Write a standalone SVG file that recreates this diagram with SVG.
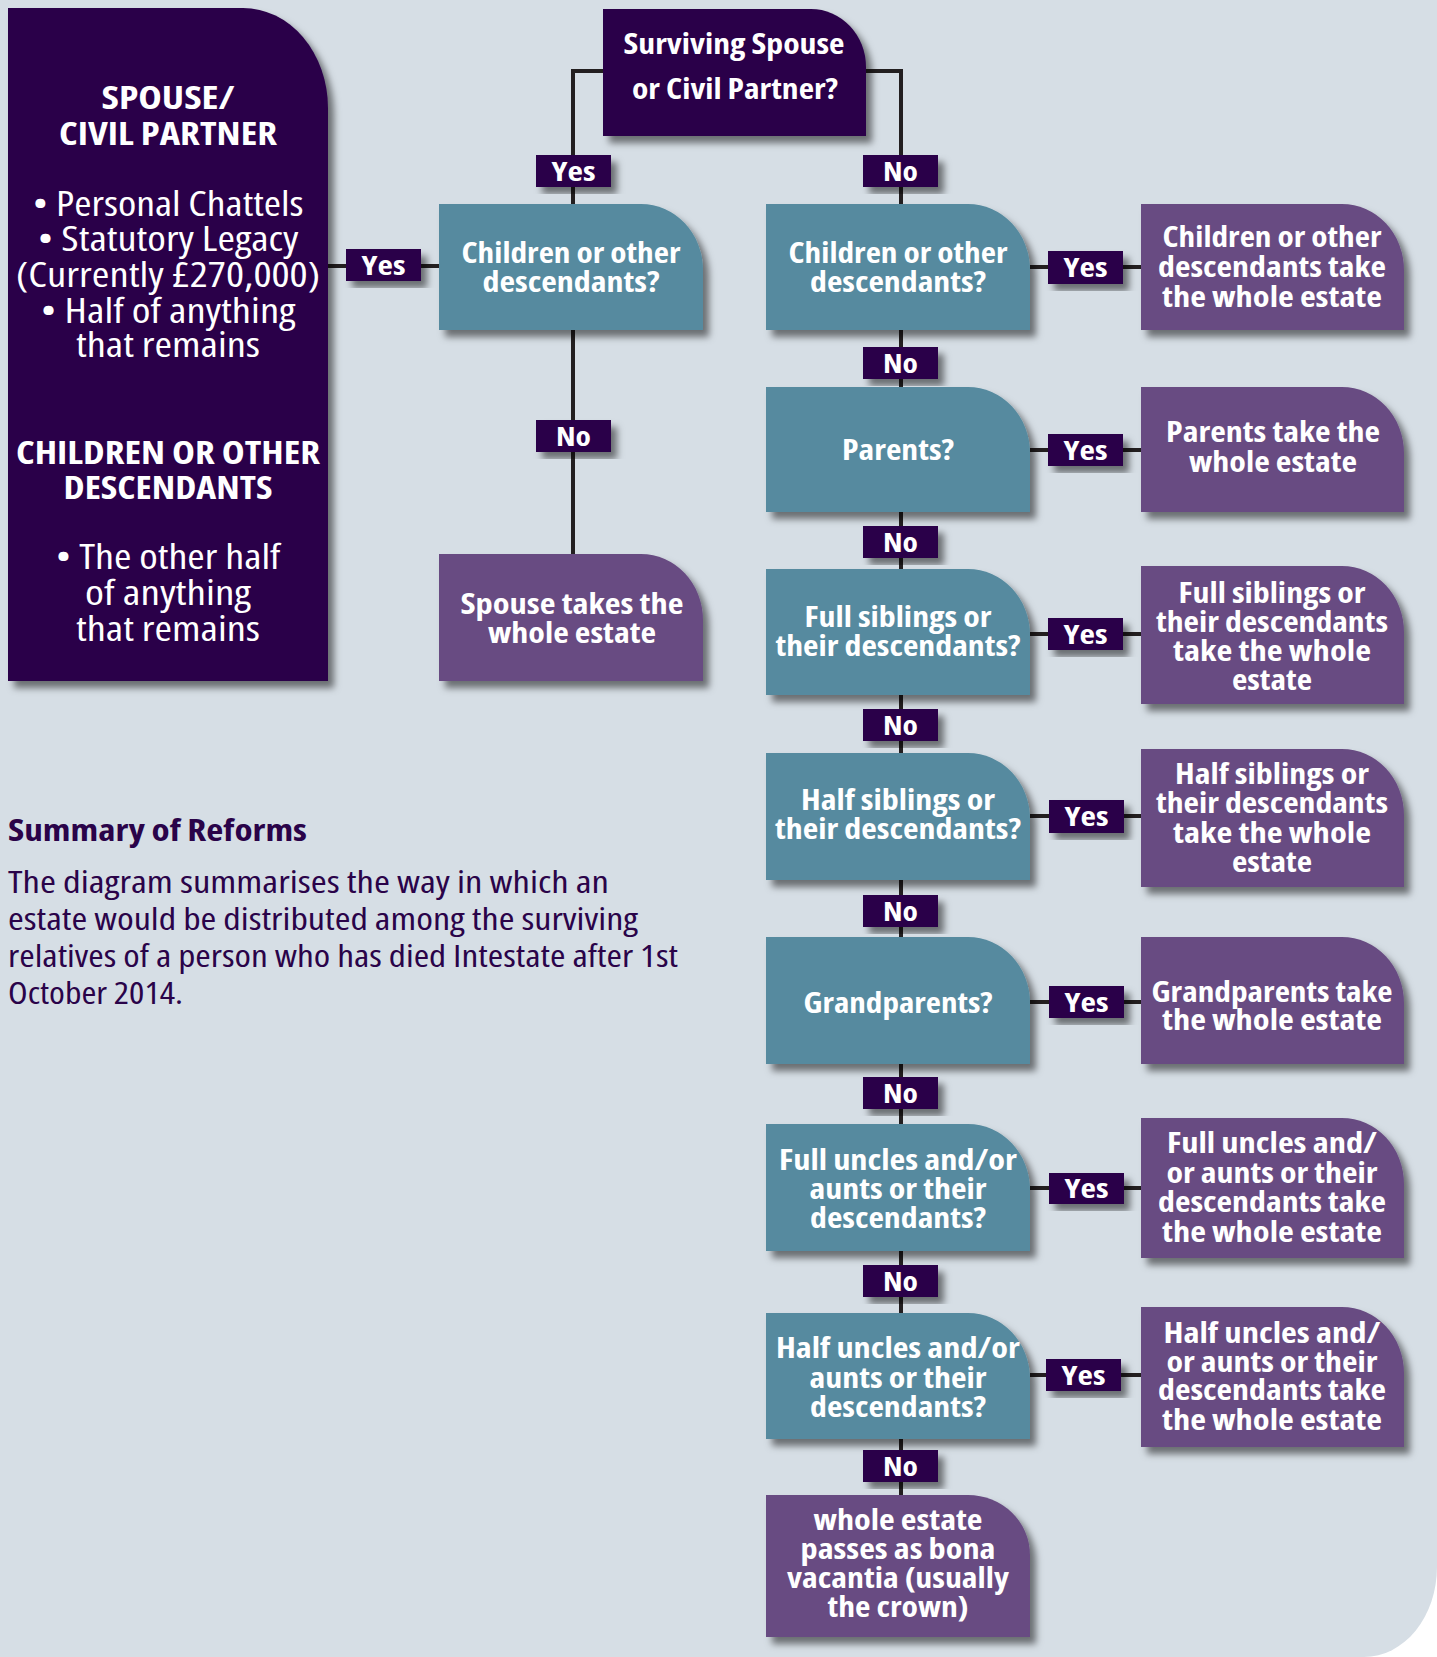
<svg xmlns="http://www.w3.org/2000/svg" width="1437" height="1657" viewBox="0 0 1437 1657">
<defs>
<filter id="sh" x="-10%" y="-10%" width="130%" height="130%">
<feDropShadow dx="6" dy="7" stdDeviation="3.5" flood-color="#000" flood-opacity="0.5"/>
</filter>
<style>
.bg{fill:#d6dee5}
.dk{fill:#2a0349}
.tl{fill:#568a9f}
.pu{fill:#684c82}
.ln{stroke:#231f20;stroke-width:4;fill:none}
.sh{filter:url(#sh)}
text{font-family:"Open Sans","Liberation Sans",sans-serif;font-stretch:condensed;text-anchor:middle;fill:#ffffff}
tspan{text-anchor:middle}
.b{font-weight:700;font-size:28px}
.lb{font-weight:700;font-size:27px}
.h{font-weight:700;font-size:32px}
.r{font-weight:400;font-size:34px}
.st{font-weight:700;font-size:31px;fill:#2a0349;text-anchor:start}
.sb{font-weight:400;font-size:31px;fill:#2a0349;text-anchor:start}
.sb tspan{text-anchor:start}
</style>
</defs>
<rect width="1437" height="1657" fill="#ffffff"/>
<path class="bg" d="M0 0 H1437 V1567 A73 90 0 0 1 1364 1657 H0 Z"/>

<g id="connectors">
<path class="ln" d="M603 71 H573 V554"/>
<path class="ln" d="M866 71 H901 V1495"/>
<path class="ln" d="M328 266 H439"/>
<path class="ln" d="M1030 267 H1141"/>
<path class="ln" d="M1030 450 H1141"/>
<path class="ln" d="M1030 634 H1141"/>
<path class="ln" d="M1030 816 H1141"/>
<path class="ln" d="M1030 1002 H1141"/>
<path class="ln" d="M1030 1188 H1141"/>
<path class="ln" d="M1030 1375 H1141"/>
</g>

<g id="spouse-info">
<path class="dk sh" d="M8 8 H243 A85 100 0 0 1 328 108 V681 H8 Z"/>
<text class="h"><tspan x="168" y="109" textLength="133" lengthAdjust="spacingAndGlyphs">SPOUSE/</tspan><tspan x="168" y="145" textLength="218" lengthAdjust="spacingAndGlyphs">CIVIL PARTNER</tspan></text>
<text class="r"><tspan x="168" y="216" textLength="271" lengthAdjust="spacingAndGlyphs">• Personal Chattels</tspan><tspan x="168" y="251" textLength="261" lengthAdjust="spacingAndGlyphs">• Statutory Legacy</tspan><tspan x="168" y="287" textLength="304" lengthAdjust="spacingAndGlyphs">(Currently £270,000)</tspan><tspan x="168" y="323" textLength="255" lengthAdjust="spacingAndGlyphs">• Half of anything</tspan><tspan x="168" y="357" textLength="184" lengthAdjust="spacingAndGlyphs">that remains</tspan></text>
<text class="h"><tspan x="168" y="464" textLength="304" lengthAdjust="spacingAndGlyphs">CHILDREN OR OTHER</tspan><tspan x="168" y="499" textLength="209" lengthAdjust="spacingAndGlyphs">DESCENDANTS</tspan></text>
<text class="r"><tspan x="168" y="569" textLength="225" lengthAdjust="spacingAndGlyphs">• The other half</tspan><tspan x="168" y="605" textLength="166" lengthAdjust="spacingAndGlyphs">of anything</tspan><tspan x="168" y="641" textLength="184" lengthAdjust="spacingAndGlyphs">that remains</tspan></text>
</g>

<g id="q-spouse">
<path class="dk sh" d="M603 9 H811 A55 58 0 0 1 866 67 V136 H603 Z"/>
<text class="b"><tspan x="734" y="54" textLength="221" lengthAdjust="spacingAndGlyphs">Surviving Spouse</tspan><tspan x="735" y="99" textLength="206" lengthAdjust="spacingAndGlyphs">or Civil Partner?</tspan></text>
</g>

<g id="q-children-left">
<path class="tl sh" d="M439 204 H641 A62 66 0 0 1 703 270 V330 H439 Z"/>
<text class="b"><tspan x="571" y="263" textLength="219" lengthAdjust="spacingAndGlyphs">Children or other</tspan><tspan x="571" y="292" textLength="177" lengthAdjust="spacingAndGlyphs">descendants?</tspan></text>
</g>

<g id="r-spouse">
<path class="pu sh" d="M439 554 H641 A62 66 0 0 1 703 620 V681 H439 Z"/>
<text class="b"><tspan x="572" y="614" textLength="223" lengthAdjust="spacingAndGlyphs">Spouse takes the</tspan><tspan x="572" y="643" textLength="168" lengthAdjust="spacingAndGlyphs">whole estate</tspan></text>
</g>

<g id="q-children">
<path class="tl sh" d="M766 204 H968 A62 66 0 0 1 1030 270 V330 H766 Z"/>
<text class="b"><tspan x="898" y="263" textLength="219" lengthAdjust="spacingAndGlyphs">Children or other</tspan><tspan x="898" y="292" textLength="176" lengthAdjust="spacingAndGlyphs">descendants?</tspan></text>
</g>
<g id="q-parents">
<path class="tl sh" d="M766 387 H968 A62 66 0 0 1 1030 453 V512 H766 Z"/>
<text class="b" x="898" y="460" textLength="112" lengthAdjust="spacingAndGlyphs">Parents?</text>
</g>
<g id="q-full-siblings">
<path class="tl sh" d="M766 569 H968 A62 66 0 0 1 1030 635 V695 H766 Z"/>
<text class="b"><tspan x="898" y="627" textLength="187" lengthAdjust="spacingAndGlyphs">Full siblings or</tspan><tspan x="898" y="656" textLength="245" lengthAdjust="spacingAndGlyphs">their descendants?</tspan></text>
</g>
<g id="q-half-siblings">
<path class="tl sh" d="M766 753 H968 A62 66 0 0 1 1030 819 V880 H766 Z"/>
<text class="b"><tspan x="898" y="810" textLength="194" lengthAdjust="spacingAndGlyphs">Half siblings or</tspan><tspan x="898" y="839" textLength="246" lengthAdjust="spacingAndGlyphs">their descendants?</tspan></text>
</g>
<g id="q-grandparents">
<path class="tl sh" d="M766 937 H968 A62 66 0 0 1 1030 1003 V1064 H766 Z"/>
<text class="b" x="898" y="1013" textLength="189" lengthAdjust="spacingAndGlyphs">Grandparents?</text>
</g>
<g id="q-full-uncles">
<path class="tl sh" d="M766 1124 H968 A62 66 0 0 1 1030 1190 V1251 H766 Z"/>
<text class="b"><tspan x="898" y="1170" textLength="238" lengthAdjust="spacingAndGlyphs">Full uncles and/or</tspan><tspan x="898" y="1199" textLength="177" lengthAdjust="spacingAndGlyphs">aunts or their</tspan><tspan x="898" y="1228" textLength="176" lengthAdjust="spacingAndGlyphs">descendants?</tspan></text>
</g>
<g id="q-half-uncles">
<path class="tl sh" d="M766 1313 H968 A62 66 0 0 1 1030 1379 V1439 H766 Z"/>
<text class="b"><tspan x="898" y="1358" textLength="244" lengthAdjust="spacingAndGlyphs">Half uncles and/or</tspan><tspan x="898" y="1388" textLength="177" lengthAdjust="spacingAndGlyphs">aunts or their</tspan><tspan x="898" y="1417" textLength="176" lengthAdjust="spacingAndGlyphs">descendants?</tspan></text>
</g>
<g id="r-bona-vacantia">
<path class="pu sh" d="M766 1495 H968 A62 60 0 0 1 1030 1555 V1637 H766 Z"/>
<text class="b"><tspan x="898" y="1530" textLength="169" lengthAdjust="spacingAndGlyphs">whole estate</tspan><tspan x="898" y="1559" textLength="195" lengthAdjust="spacingAndGlyphs">passes as bona</tspan><tspan x="898" y="1588" textLength="222" lengthAdjust="spacingAndGlyphs">vacantia (usually</tspan><tspan x="898" y="1617" textLength="141" lengthAdjust="spacingAndGlyphs">the crown)</tspan></text>
</g>

<g id="r-children">
<path class="pu sh" d="M1141 204 H1342 A62 66 0 0 1 1404 270 V330 H1141 Z"/>
<text class="b"><tspan x="1272" y="247" textLength="219" lengthAdjust="spacingAndGlyphs">Children or other</tspan><tspan x="1272" y="277" textLength="228" lengthAdjust="spacingAndGlyphs">descendants take</tspan><tspan x="1272" y="307" textLength="220" lengthAdjust="spacingAndGlyphs">the whole estate</tspan></text>
</g>
<g id="r-parents">
<path class="pu sh" d="M1141 387 H1342 A62 66 0 0 1 1404 453 V512 H1141 Z"/>
<text class="b"><tspan x="1273" y="442" textLength="214" lengthAdjust="spacingAndGlyphs">Parents take the</tspan><tspan x="1273" y="472" textLength="168" lengthAdjust="spacingAndGlyphs">whole estate</tspan></text>
</g>
<g id="r-full-siblings">
<path class="pu sh" d="M1141 566 H1342 A62 66 0 0 1 1404 632 V704 H1141 Z"/>
<text class="b"><tspan x="1272" y="603" textLength="187" lengthAdjust="spacingAndGlyphs">Full siblings or</tspan><tspan x="1272" y="632" textLength="232" lengthAdjust="spacingAndGlyphs">their descendants</tspan><tspan x="1272" y="661" textLength="198" lengthAdjust="spacingAndGlyphs">take the whole</tspan><tspan x="1272" y="690" textLength="80" lengthAdjust="spacingAndGlyphs">estate</tspan></text>
</g>
<g id="r-half-siblings">
<path class="pu sh" d="M1141 749 H1342 A62 66 0 0 1 1404 815 V887 H1141 Z"/>
<text class="b"><tspan x="1272" y="784" textLength="194" lengthAdjust="spacingAndGlyphs">Half siblings or</tspan><tspan x="1272" y="813" textLength="232" lengthAdjust="spacingAndGlyphs">their descendants</tspan><tspan x="1272" y="843" textLength="198" lengthAdjust="spacingAndGlyphs">take the whole</tspan><tspan x="1272" y="872" textLength="80" lengthAdjust="spacingAndGlyphs">estate</tspan></text>
</g>
<g id="r-grandparents">
<path class="pu sh" d="M1141 937 H1342 A62 66 0 0 1 1404 1003 V1064 H1141 Z"/>
<text class="b"><tspan x="1272" y="1002" textLength="241" lengthAdjust="spacingAndGlyphs">Grandparents take</tspan><tspan x="1272" y="1030" textLength="220" lengthAdjust="spacingAndGlyphs">the whole estate</tspan></text>
</g>
<g id="r-full-uncles">
<path class="pu sh" d="M1141 1118 H1342 A62 66 0 0 1 1404 1184 V1258 H1141 Z"/>
<text class="b"><tspan x="1272" y="1153" textLength="210" lengthAdjust="spacingAndGlyphs">Full uncles and/</tspan><tspan x="1272" y="1183" textLength="211" lengthAdjust="spacingAndGlyphs">or aunts or their</tspan><tspan x="1272" y="1212" textLength="228" lengthAdjust="spacingAndGlyphs">descendants take</tspan><tspan x="1272" y="1242" textLength="220" lengthAdjust="spacingAndGlyphs">the whole estate</tspan></text>
</g>
<g id="r-half-uncles">
<path class="pu sh" d="M1141 1307 H1342 A62 66 0 0 1 1404 1373 V1447 H1141 Z"/>
<text class="b"><tspan x="1272" y="1343" textLength="217" lengthAdjust="spacingAndGlyphs">Half uncles and/</tspan><tspan x="1272" y="1372" textLength="211" lengthAdjust="spacingAndGlyphs">or aunts or their</tspan><tspan x="1272" y="1400" textLength="228" lengthAdjust="spacingAndGlyphs">descendants take</tspan><tspan x="1272" y="1430" textLength="220" lengthAdjust="spacingAndGlyphs">the whole estate</tspan></text>
</g>

<g id="labels">
<rect class="dk sh" x="536" y="155" width="75" height="32"/>
<text class="lb" x="573.5" y="181" textLength="44" lengthAdjust="spacingAndGlyphs">Yes</text>
<rect class="dk sh" x="863" y="155" width="75" height="32"/>
<text class="lb" x="900.5" y="181" textLength="35" lengthAdjust="spacingAndGlyphs">No</text>
<rect class="dk sh" x="346" y="249" width="75" height="32"/>
<text class="lb" x="383.5" y="275" textLength="44" lengthAdjust="spacingAndGlyphs">Yes</text>
<rect class="dk sh" x="536" y="420" width="75" height="32"/>
<text class="lb" x="573.5" y="446" textLength="35" lengthAdjust="spacingAndGlyphs">No</text>

<rect class="dk sh" x="1048" y="251" width="75" height="33"/>
<text class="lb" x="1085.5" y="277" textLength="44" lengthAdjust="spacingAndGlyphs">Yes</text>
<rect class="dk sh" x="1048" y="434" width="75" height="32"/>
<text class="lb" x="1085.5" y="460" textLength="44" lengthAdjust="spacingAndGlyphs">Yes</text>
<rect class="dk sh" x="1048" y="618" width="75" height="32"/>
<text class="lb" x="1085.5" y="644" textLength="44" lengthAdjust="spacingAndGlyphs">Yes</text>
<rect class="dk sh" x="1049" y="800" width="75" height="33"/>
<text class="lb" x="1086.5" y="826" textLength="44" lengthAdjust="spacingAndGlyphs">Yes</text>
<rect class="dk sh" x="1049" y="986" width="75" height="32"/>
<text class="lb" x="1086.5" y="1012" textLength="44" lengthAdjust="spacingAndGlyphs">Yes</text>
<rect class="dk sh" x="1049" y="1173" width="75" height="31"/>
<text class="lb" x="1086.5" y="1198" textLength="44" lengthAdjust="spacingAndGlyphs">Yes</text>
<rect class="dk sh" x="1046" y="1359" width="75" height="32"/>
<text class="lb" x="1083.5" y="1385" textLength="44" lengthAdjust="spacingAndGlyphs">Yes</text>

<rect class="dk sh" x="863" y="347" width="75" height="32"/>
<text class="lb" x="900.5" y="373" textLength="35" lengthAdjust="spacingAndGlyphs">No</text>
<rect class="dk sh" x="863" y="526" width="75" height="32"/>
<text class="lb" x="900.5" y="552" textLength="35" lengthAdjust="spacingAndGlyphs">No</text>
<rect class="dk sh" x="863" y="709" width="75" height="32"/>
<text class="lb" x="900.5" y="735" textLength="35" lengthAdjust="spacingAndGlyphs">No</text>
<rect class="dk sh" x="863" y="895" width="75" height="32"/>
<text class="lb" x="900.5" y="921" textLength="35" lengthAdjust="spacingAndGlyphs">No</text>
<rect class="dk sh" x="863" y="1077" width="75" height="32"/>
<text class="lb" x="900.5" y="1103" textLength="35" lengthAdjust="spacingAndGlyphs">No</text>
<rect class="dk sh" x="863" y="1265" width="75" height="32"/>
<text class="lb" x="900.5" y="1291" textLength="35" lengthAdjust="spacingAndGlyphs">No</text>
<rect class="dk sh" x="863" y="1450" width="75" height="32"/>
<text class="lb" x="900.5" y="1476" textLength="35" lengthAdjust="spacingAndGlyphs">No</text>
</g>

<g id="summary">
<text class="st" x="8" y="841" textLength="299" lengthAdjust="spacingAndGlyphs">Summary of Reforms</text>
<text class="sb"><tspan x="8" y="893" textLength="601" lengthAdjust="spacingAndGlyphs">The diagram summarises the way in which an</tspan><tspan x="8" y="930" textLength="630" lengthAdjust="spacingAndGlyphs">estate would be distributed among the surviving</tspan><tspan x="8" y="967" textLength="670" lengthAdjust="spacingAndGlyphs">relatives of a person who has died Intestate after 1st</tspan><tspan x="8" y="1004" textLength="175" lengthAdjust="spacingAndGlyphs">October 2014.</tspan></text>
</g>
</svg>
